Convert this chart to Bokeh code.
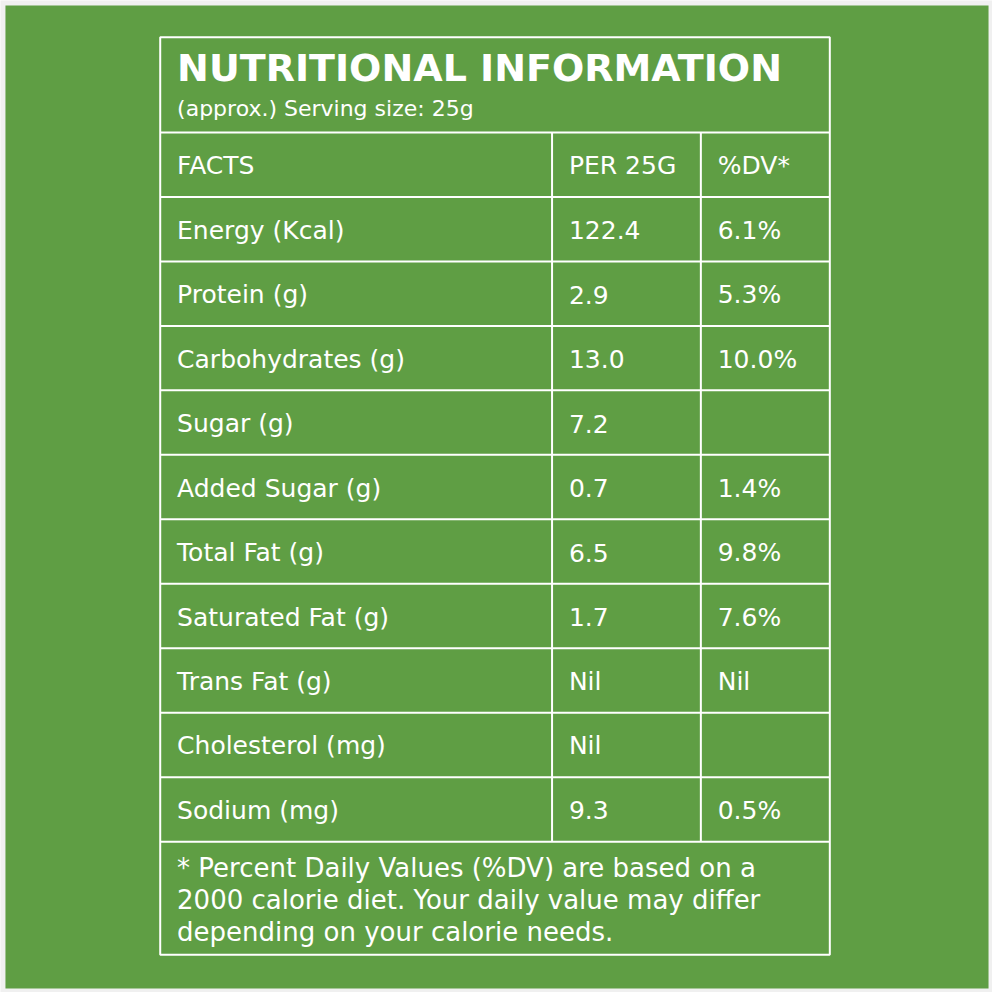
from bokeh.plotting import figure
from bokeh.models import Range1d, ColumnDataSource
from bokeh.core.properties import value
from bokeh.embed import file_html
from bokeh.resources import INLINE

title = "NUTRITIONAL INFORMATION"
subtitle = "(approx.) Serving size: 25g"
headers = ["FACTS", "PER 25G", "%DV*"]
facts = ["Energy (Kcal)", "Protein (g)", "Carbohydrates (g)", "Sugar (g)", "Added Sugar (g)",
         "Total Fat (g)", "Saturated Fat (g)", "Trans Fat (g)", "Cholesterol (mg)", "Sodium (mg)"]
per_25g = ["122.4", "2.9", "13.0", "7.2", "0.7", "6.5", "1.7", "Nil", "Nil", "9.3"]
pct_dv = ["6.1%", "5.3%", "10.0%", "", "1.4%", "9.8%", "7.6%", "Nil", "", "0.5%"]
footnote = ["* Percent Daily Values (%DV) are based on a",
            "2000 calorie diet. Your daily value may differ",
            "depending on your calorie needs."]

GREEN = "#5f9e44"
BG = "#f0f0f0"
FONT = "DejaVu Sans"

# layout (reference pixel coordinates)
L, R, T, B = 161, 836, 37, 962
head_top = 133
row_h = 65
col_x = [L, 556, 706]
text_pad = 17

p = figure(width=992, height=992, output_backend="svg", toolbar_location=None,
           x_range=Range1d(0, 1000), y_range=Range1d(1000, 0), min_border=0)
p.axis.visible = False
p.grid.visible = False
p.outline_line_color = None
p.background_fill_color = BG
p.border_fill_color = BG

# green panel
p.quad(left=5, right=996, top=5, bottom=996, fill_color=GREEN, line_color=None)

nrows = len(facts) + 1
ys = [head_top + i * row_h for i in range(nrows + 1)]
line_kw = dict(line_color="white", line_width=2)
# outer box
p.quad(left=L, right=R, top=T, bottom=B, fill_color=None, **line_kw)
# horizontal separators
p.segment(x0=[L] * len(ys), x1=[R] * len(ys), y0=ys, y1=ys, **line_kw)
# column dividers
p.segment(x0=col_x[1:], x1=col_x[1:], y0=[ys[0]] * 2, y1=[ys[-1]] * 2, **line_kw)

# title
p.text(x=[L + text_pad], y=[68], text=[title], text_color="white",
       text_font=value(FONT), text_font_size="38px", text_font_style="bold",
       text_baseline="middle")
p.text(x=[L + text_pad], y=[109], text=[subtitle], text_color="white",
       text_font=value(FONT), text_font_size="22px", text_baseline="middle")

# table cells
cells_x, cells_y, cells_t = [], [], []
rows = [headers] + [[f, v, d] for f, v, d in zip(facts, per_25g, pct_dv)]
for i, row in enumerate(rows):
    yc = ys[i] + row_h / 2 + 1
    for j, t in enumerate(row):
        cells_x.append(col_x[j] + text_pad)
        cells_y.append(yc)
        cells_t.append(t)
src = ColumnDataSource(dict(x=cells_x, y=cells_y, t=cells_t))
p.text(x="x", y="y", text="t", source=src, text_color="white",
       text_font=value(FONT), text_font_size="25px", text_baseline="middle")

# footnote
p.text(x=[L + text_pad] * 3, y=[874 + 32.5 * i for i in range(3)], text=footnote,
       text_color="white", text_font=value(FONT), text_font_size="26px",
       text_baseline="middle")

open("out.html", "w").write(file_html(p, INLINE))
